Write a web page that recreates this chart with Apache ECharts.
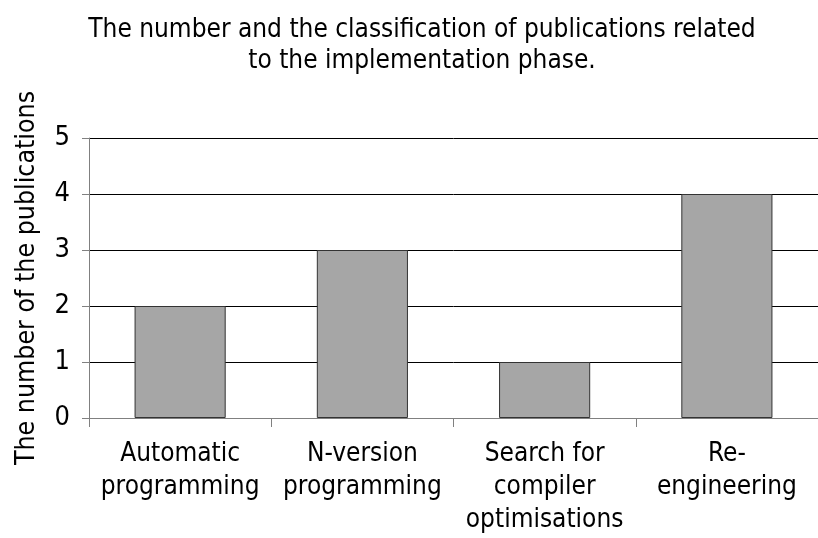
<!DOCTYPE html>
<html>
<head>
<meta charset="utf-8">
<script src="https://cdn.jsdelivr.net/npm/echarts@6/dist/echarts.min.js"></script>
<style>
  html, body { margin: 0; padding: 0; background: #fff; }
  #chart { width: 818px; height: 538px; }
</style>
</head>
<body>
<div id="chart"></div>
<script>
const categories = ['Automatic\nprogramming', 'N-version\nprogramming', 'Search for\ncompiler\noptimisations', 'Re-\nengineering'];
const counts = [2, 3, 1, 4];
const yTicks = [0, 1, 2, 3, 4, 5];

const fontFamily = '"DejaVu Sans Condensed", "DejaVu Sans", sans-serif';

const chart = echarts.init(document.getElementById('chart'));

const option = {
  backgroundColor: '#fff',
  animation: false,
  title: {
    text: 'The number and the classification of publications related\nto the implementation phase.',
    left: 417,
    top: 10,
    textAlign: 'center',
    textStyle: {
      fontFamily,
      fontSize: 26,
      fontWeight: 'normal',
      color: '#000',
      lineHeight: 31
    }
  },
  grid: {
    left: 89,
    right: -12,
    top: 138,
    bottom: 120,
    containLabel: false
  },
  xAxis: {
    type: 'category',
    data: categories,
    axisLine: { lineStyle: { color: '#808080', width: 1 } },
    axisTick: { show: true, length: 9, lineStyle: { color: '#808080' } },
    axisLabel: {
      interval: 0,
      margin: 20,
      fontFamily,
      fontSize: 26,
      lineHeight: 33,
      color: '#000'
    }
  },
  yAxis: {
    type: 'value',
    min: yTicks[0],
    max: yTicks[yTicks.length - 1],
    interval: 1,
    name: 'The number of the publications',
    nameLocation: 'middle',
    nameGap: 48,
    nameTextStyle: { fontFamily, fontSize: 26.5, color: '#000' },
    axisLine: { show: true, lineStyle: { color: '#808080', width: 1 } },
    axisTick: { show: true, length: 7, lineStyle: { color: '#808080' } },
    splitLine: { show: true, lineStyle: { color: '#000', width: 1 } },
    axisLabel: { margin: 19, fontFamily, fontSize: 27, color: '#000' }
  },
  series: [{
    type: 'bar',
    data: counts,
    barCategoryGap: '50%',
    itemStyle: { color: '#a6a6a6', borderColor: '#333', borderWidth: 1 }
  }]
};

chart.setOption(option);
</script>
</body>
</html>
